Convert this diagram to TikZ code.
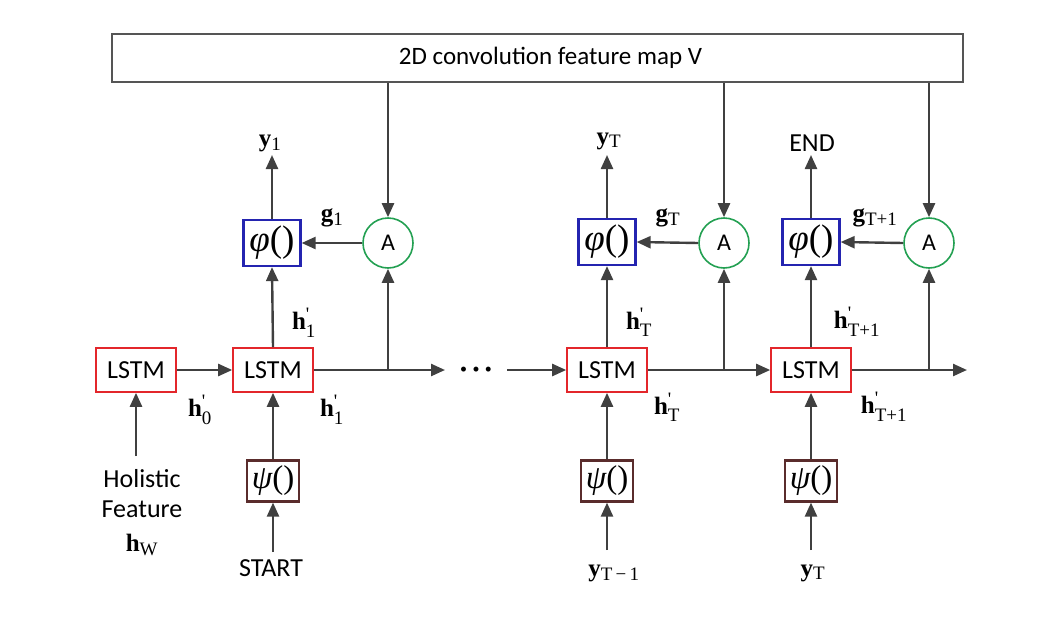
\documentclass[tikz,border=0pt]{standalone}
\usepackage{amsmath}
\usepackage{fontspec}
\setmainfont{Carlito}
\newfontfamily\tms{Liberation Serif}
\usetikzlibrary{arrows.meta}
\definecolor{lred}{HTML}{E3262B}
\definecolor{pblue}{HTML}{2424B0}
\definecolor{agreen}{HTML}{23A052}
\definecolor{pbrown}{HTML}{5A2C2C}
\definecolor{agray}{HTML}{404040}
\definecolor{bgray}{HTML}{555555}
\newcommand\subsz[1]{\text{\tms\mdseries\fontsize{19}{19}\selectfont #1}}
\newcommand\hlab[2]{{\bfseries #1}$^{\subsz{\textquotesingle}}_{\subsz{#2}}$}
\newcommand\slab[2]{{\bfseries #1}$_{\subsz{#2}}$}
\begin{document}
\begin{tikzpicture}[x=1pt,y=-1pt,
 arr/.style={draw=agray,line width=2.4pt,-{Triangle[length=14pt,width=12pt]}},
 lstm/.style={draw=lred,line width=1.6pt,minimum width=80pt,minimum height=44pt,inner sep=0pt,font=\fontsize{26}{26}\selectfont},
 phib/.style={draw=pblue,line width=2.2pt,minimum width=57pt,minimum height=46pt,inner sep=0pt,font=\tms\fontsize{37}{37}\selectfont},
 psib/.style={draw=pbrown,line width=2.2pt,minimum width=52pt,minimum height=41pt,inner sep=0pt,font=\tms\fontsize{33}{33}\selectfont},
 attn/.style={circle,draw=agreen,line width=1.6pt,minimum size=50pt,inner sep=0pt,font=\fontsize{24}{24}\selectfont},
 txt/.style={inner sep=0pt,font=\fontsize{26}{26}\selectfont},
 lab/.style={inner sep=0pt,font=\tms\fontsize{25}{25}\selectfont},
]
\useasboundingbox (0,0) rectangle (1060,616);

% top feature map
\node[draw=bgray,line width=1.6pt,minimum width=851pt,minimum height=48pt,inner sep=0pt,font=\fontsize{25}{25}\selectfont] (V) at (537.5,58) {\hspace*{26pt}2D convolution feature map V};

% nodes
\node[lstm] (L0) at (136,370) {LSTM};
\node[lstm] (L1) at (273,370) {LSTM};
\node[lstm] (LT) at (607,370) {LSTM};
\node[lstm] (LT1) at (811,370) {LSTM};

\node[phib] (P1) at (272,243) {{\itshape φ}()};
\node[phib] (PT) at (607,242) {{\itshape φ}()};
\node[phib] (PT1) at (811,242) {{\itshape φ}()};

\node[attn] (A1) at (388,243) {A};
\node[attn] (AT) at (724,243) {A};
\node[attn] (AT1) at (929,243) {A};

\node[psib] (S1) at (273,481) {{\itshape ψ}()};
\node[psib] (ST) at (607,481) {{\itshape ψ}()};
\node[psib] (ST1) at (811,481) {{\itshape ψ}()};

% texts
\node[lab] (y1) at (270,143) {\slab{y}{1}};
\node[lab] (yT) at (609,141) {\slab{y}{T}};
\node[txt] (END) at (812,143) {END};
\node[lab] (g1) at (332,218) {\slab{g}{1}};
\node[lab] (gT) at (668,218) {\slab{g}{T}};
\node[lab] (gT1) at (875,218) {\slab{g}{T+1}};

\node[lab] (h0) at (200,410) {\hlab{h}{0}};
\node[lab] (h1a) at (304,323) {\hlab{h}{1}};
\node[lab] (h1b) at (332,410) {\hlab{h}{1}};
\node[lab] (hTa) at (639,322) {\hlab{h}{T}};
\node[lab] (hTb) at (667,407) {\hlab{h}{T}};
\node[lab] (hT1a) at (857,322) {\hlab{h}{T+1}};
\node[lab] (hT1b) at (884,407) {\hlab{h}{T+1}};

\node[txt] (hol) at (142,479) {Holistic};
\node[txt] (fea) at (142,509) {Feature};
\node[lab] (hW) at (142,545) {\slab{h}{W}};
\node[txt] (start) at (271,568) {START};
\node[lab] (yTm) at (614,573) {{\bfseries y}$_{\subsz{T\,\textminus\,1}}$};
\node[lab] (yTb) at (813,573) {\slab{y}{T}};

\node[inner sep=0pt,font=\fontsize{14}{14}\selectfont] (dots) at (476,370) {\textbullet\hspace{5.5pt}\textbullet\hspace{5.5pt}\textbullet};

% coordinates
\coordinate (dA) at (445,370);
\coordinate (dB) at (507,370);
\coordinate (eA) at (967,370);
\coordinate (y1t) at (272,155);
\coordinate (yTt) at (607,155);
\coordinate (ENDt) at (811,155);
\coordinate (holt) at (136,456);
\coordinate (st) at (273,552);
\coordinate (ytm) at (607,550);
\coordinate (ytb) at (811,550);

% connectors: feature map to attention
\draw[arr] (V.south -| A1.north) -- (A1.north);
\draw[arr] (V.south -| AT.north) -- (AT.north);
\draw[arr] (V.south -| AT1.north) -- (AT1.north);

% attention to phi
\draw[arr] (A1.west) -- (P1.east);
\draw[arr] (AT.west) -- (PT.east);
\draw[arr] (AT1.west) -- (PT1.east);

% phi outputs
\draw[arr] (P1.north) -- (y1t);
\draw[arr] (PT.north) -- (yTt);
\draw[arr] (PT1.north) -- (ENDt);

% LSTM to phi
\draw[arr] (L1.north) -- (P1.south);
\draw[arr] (LT.north) -- (PT.south);
\draw[arr] (LT1.north) -- (PT1.south);

% horizontal chain
\draw[arr] (L0.east) -- (L1.west);
\draw[arr] (L1.east) -- (dA);
\draw[arr] (dB) -- (LT.west);
\draw[arr] (LT.east) -- (LT1.west);
\draw[arr] (LT1.east) -- (eA);

% branches to attention
\draw[arr] (A1.south |- L1.east) -- (A1.south);
\draw[arr] (AT.south |- LT.east) -- (AT.south);
\draw[arr] (AT1.south |- LT1.east) -- (AT1.south);

% inputs
\draw[arr] (holt) -- (L0.south);
\draw[arr] (S1.north) -- (L1.south);
\draw[arr] (ST.north) -- (LT.south);
\draw[arr] (ST1.north) -- (LT1.south);
\draw[arr] (st) -- (S1.south);
\draw[arr] (ytm) -- (ST.south);
\draw[arr] (ytb) -- (ST1.south);
\end{tikzpicture}
\end{document}
